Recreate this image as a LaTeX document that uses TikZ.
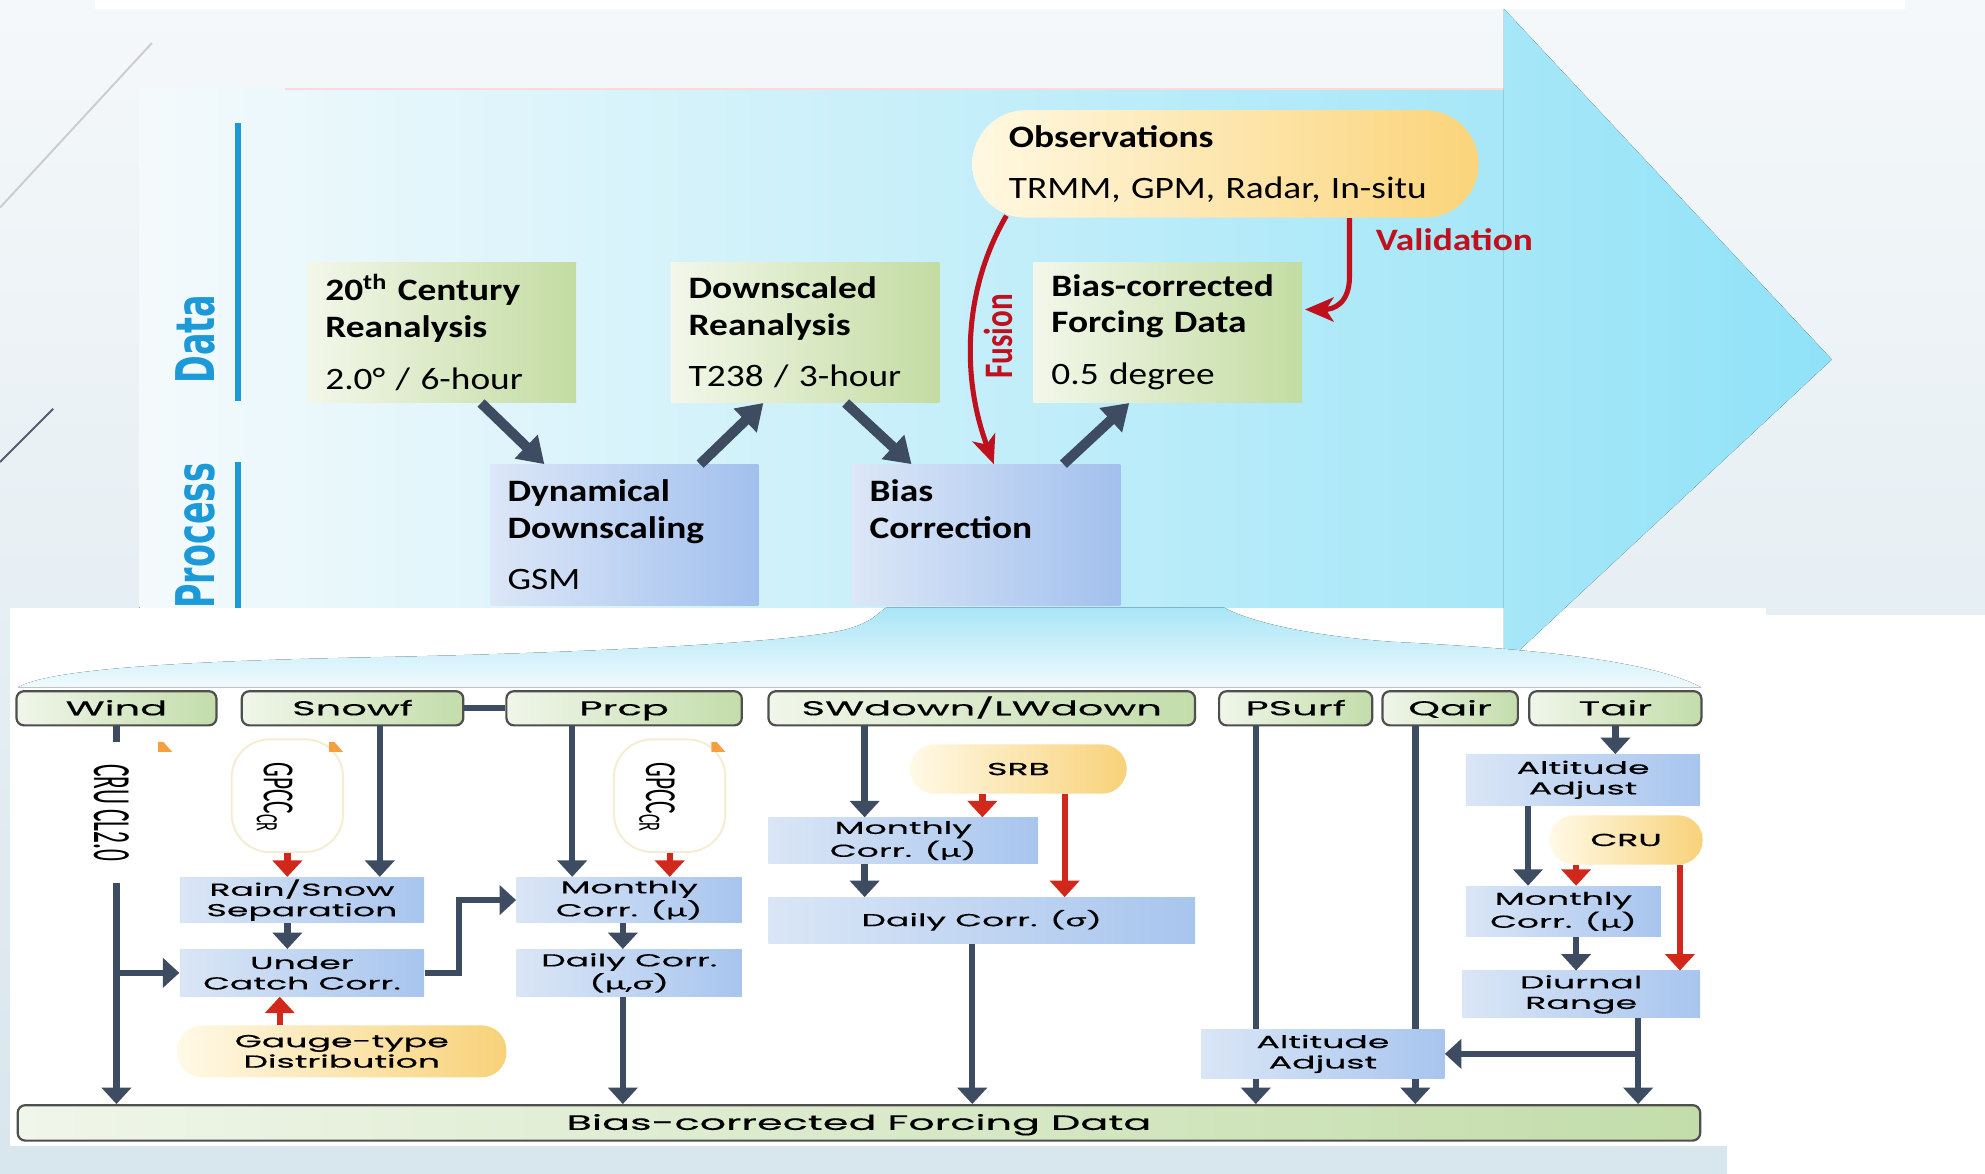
\documentclass[tikz,border=0pt]{standalone}
\usepackage{fontspec}
\usepackage{graphicx}
\usepackage{tikz}
\usetikzlibrary{positioning}
\usetikzlibrary{calc}
\usetikzlibrary{arrows.meta}
\setmainfont{Carlito}
\newfontfamily\topfont[FakeStretch=1.2]{Carlito}
\newfontfamily\sidefont{DejaVu Sans}
\newfontfamily\flowfont[FakeStretch=2.0, FakeBold=0.4]{Poppins}
\newfontfamily\pillfont[FakeStretch=2.0, FakeBold=0.9]{Poppins}
\newfontfamily\grkfont[FakeStretch=2.0, FakeBold=0.4]{Lato}
\newcommand{\gmu}{{\grkfont μ}}
\newcommand{\gsig}{{\grkfont σ}}

\definecolor{pagetop}{HTML}{F5F8FA}
\definecolor{pagebot}{HTML}{D8E6ED}
\definecolor{bodyl}{HTML}{F4FAFC}
\definecolor{bodyr}{HTML}{A6E7F8}
\definecolor{headr}{HTML}{90E2F8}
\definecolor{callt}{HTML}{A9E6F7}
\definecolor{callb}{HTML}{F0FAFD}
\definecolor{tagblue}{HTML}{1C9AD8}
\definecolor{datal}{HTML}{F3F7EA}
\definecolor{datar}{HTML}{C3DCA2}
\definecolor{procl}{HTML}{DCE7F7}
\definecolor{procr}{HTML}{A2C0EE}
\definecolor{obsl}{HTML}{FFF8E2}
\definecolor{obsr}{HTML}{FBD47A}
\definecolor{slate}{HTML}{3E4C62}
\definecolor{fusered}{HTML}{C0101E}
\definecolor{hdrl}{HTML}{F0F6EA}
\definecolor{hdrr}{HTML}{C3DDAA}
\definecolor{hdrline}{HTML}{4F4F4F}
\definecolor{corrl}{HTML}{DAE6F6}
\definecolor{corrr}{HTML}{A8C5EE}
\definecolor{pilll}{HTML}{FFF9E6}
\definecolor{pillr}{HTML}{F8D27A}
\definecolor{srcred}{HTML}{D2281C}
\definecolor{gpccline}{HTML}{F4EDD2}
\definecolor{tick}{HTML}{F5A040}

\tikzset{
    databox/.style={
           rectangle,
           left color=datal, right color=datar,
           minimum width=42.4mm, minimum height=22.2mm,
           text width=36.8mm, inner xsep=2.8mm,
           align=left,
           font=\topfont\fontsize{14}{16.5}\selectfont
           },
    procbox/.style={databox, left color=procl, right color=procr},
    obsbox/.style={
           rectangle, rounded corners=8.5mm,
           left color=obsl, right color=obsr,
           minimum width=80mm, minimum height=17mm,
           text width=68.4mm, inner xsep=5.8mm,
           align=left,
           font=\topfont\fontsize{14}{22.7}\selectfont
           },
    sidetag/.style={rotate=90, text=tagblue,
           font=\sidefont\bfseries\fontsize{15}{18}\selectfont},
    redlabel/.style={text=fusered, font=\bfseries\fontsize{14}{16}\selectfont},
    bigarrow/.style={draw=slate, line width=1.6mm,
           -{Triangle[length=4mm,width=5mm]}},
    redarrow/.style={draw=fusered, line width=0.8mm,
           -{Stealth[length=4.5mm,width=3.8mm,inset=1.2mm]}},
    hdr/.style={
           rectangle, rounded corners=1.2mm,
           draw=hdrline, line width=0.35mm,
           left color=hdrl, right color=hdrr,
           minimum height=5.4mm, inner sep=0pt,
           text height=2.8mm, text depth=0.6mm,
           font=\flowfont\fontsize{9}{10}\selectfont
           },
    corr/.style={
           rectangle, left color=corrl, right color=corrr,
           inner sep=0pt, align=center,
           font=\flowfont\fontsize{7.8}{9.2}\selectfont
           },
    srcpill/.style={
           rectangle, rounded corners=3.9mm,
           left color=pilll, right color=pillr,
           inner sep=0pt, align=center,
           font=\pillfont\fontsize{7.8}{9.2}\selectfont
           },
    gpcc/.style={
           rectangle, rounded corners=6mm,
           fill=white, draw=gpccline, line width=0.3mm,
           minimum width=17.6mm, minimum height=17.8mm
           },
    vtext/.style={rotate=-90, font=\fontsize{10.5}{12}\selectfont},
    flow/.style={draw=slate, line width=1mm,
           -{Triangle[length=2.6mm,width=4.6mm]}},
    flowline/.style={draw=slate, line width=1mm},
    feed/.style={draw=srcred, line width=1mm,
           -{Triangle[length=2.6mm,width=4.6mm]}},
}

\begin{document}
\begin{tikzpicture}[x=0.2mm, y=-0.2mm]
   \useasboundingbox (0,0) rectangle (1568,927);

   % page and the two panels
   \fill[top color=pagetop, bottom color=pagebot] (0,0) rectangle (1568,927);
   \fill[white] (75,0) rectangle (1505,7);
   \fill[white] (8,480) rectangle (1395,905);
   \fill[white] (1364,486) rectangle (1568,927);
   \draw[draw=black!20, line width=0.3mm] (120,34) -- (0,164);
   \draw[draw=slate!90, line width=0.3mm] (42,323) -- (0,365);

   % big arrow and the zoom-out under it
   \fill[left color=bodyl, right color=bodyr] (110,70) rectangle (1188,480);
   \draw[red!15, line width=0.3mm] (225,70) -- (1188,70);
   \fill[left color=bodyr, right color=headr] (1188,7) -- (1447,284) -- (1188,525) -- cycle;
   \fill[top color=callt, bottom color=callb]
       (14,543) .. controls (40,528) and (150,522) .. (302,519)
       .. controls (450,516) and (620,508) .. (665,498)
       .. controls (690,492) and (693,484) .. (700,480)
       -- (967,480)
       .. controls (985,490) and (1030,502) .. (1100,507)
       .. controls (1200,512) and (1300,520) .. (1344,543) -- cycle;

   \node[sidetag] (data) at (154,268) {\scalebox{1}[1.6]{Data}};
   \draw[tagblue, line width=0.9mm] (188,97) -- (188,317);
   \begin{scope}
      \clip (0,0) rectangle (1568,480);
      \node[sidetag] (process) at (154,423) {\scalebox{1}[1.6]{Process}};
      \draw[tagblue, line width=0.9mm] (188,365) -- (188,480);
   \end{scope}

   \begin{scope}[on grid]
   \node[databox] (dA) at (349,262.5)
      {\textbf{20\textsuperscript{th} Century}\\\textbf{Reanalysis}\\[6.8pt]2.0° / 6-hour};
   \node[databox] (dB) [right=57.4mm of dA]
      {\textbf{Downscaled}\\\textbf{Reanalysis}\\[6.8pt]T238 / 3-hour};
   \node[databox] (dC) [right=57.3mm of dB]
      {\textbf{Bias-corrected}\\\textbf{Forcing Data}\\[6.8pt]0.5 degree};
   \node[procbox] (pD) [below right=32mm and 28.8mm of dA]
      {\textbf{Dynamical}\\\textbf{Downscaling}\\[6.8pt]GSM};
   \node[procbox] (pB) [right=57.2mm of pD]
      {\textbf{Bias}\\\textbf{Correction}\\[6.8pt]\phantom{GSM}};
   \node[obsbox] (obs) at (968,129.5)
      {\textbf{Observations}\\TRMM, GPM, Radar, In-situ};
   \end{scope}

   \draw[bigarrow] ($(dA.south)+(31,0)$) -- ($(pD.north)+(-63,0)$);
   \draw[bigarrow] ($(pD.north)+(60,0)$) -- ($(dB.south)+(-33,0)$);
   \draw[bigarrow] ($(dB.south)+(32,0)$) -- ($(pB.north)+(-59,0)$);
   \draw[bigarrow] ($(pB.north)+(61,0)$) -- ($(dC.south)+(-30.5,0)$);

   \draw[redarrow] ($(obs.south)+(-173,-2)$)
       .. controls +(-35,60) and +(-25,-67) ..
       node[redlabel, pos=0.5, xshift=4.3mm, rotate=90] (fus) {\scalebox{1}[1.3]{Fusion}}
       ($(pB.north)+(6,0)$);
   \draw[redarrow] ($(obs.south)+(98,0)$)
       -- node[redlabel, font=\topfont\bfseries\fontsize{14}{16}\selectfont,
               pos=0.37, anchor=west, xshift=2.6mm] (val) {Validation} ++(0,46)
       .. controls +(0,22) and +(22,0) .. ($(dC.east)+(2,-18)$);

   % variable headers and the output bar
   \node[hdr, minimum width=31.6mm] (wind) at (92,559.5) {Wind};
   \node[hdr, minimum width=35mm] (snowf) at (278.5,559.5) {Snowf};
   \node[hdr, minimum width=37.2mm] (prcp) at (493,559.5) {Prcp};
   \node[hdr, minimum width=67.4mm] (swd) at (775.5,559.5) {SWdown/LWdown};
   \node[hdr, minimum width=24.2mm] (psurf) at (1023.5,559.5) {PSurf};
   \node[hdr, minimum width=21.4mm] (qair) at (1145.5,559.5) {Qair};
   \node[hdr, minimum width=27.2mm] (tair) at (1276,559.5) {Tair};
   \node[hdr, minimum width=265.8mm, minimum height=5.6mm,
         font=\flowfont\fontsize{9.3}{10}\selectfont] (bar) at (678.5,887) {Bias-corrected Forcing Data};

   % wind and precipitation
   \node[vtext, inner xsep=3.4mm] (clim) at (88,642) {\scalebox{1}[2.3]{CRU CL2.0}};
   \node[gpcc] (gpA) at (227,628.5) {};
   \node[vtext] (gpAt) at (217,630) {\scalebox{1}[1.9]{GPCC\textsubscript{CR}}};
   \node[gpcc] (gpB) at (529,628.5) {};
   \node[vtext] (gpBt) at (519,630) {\scalebox{1}[1.9]{GPCC\textsubscript{CR}}};
   \fill[tick] (125,586) -- (129,586) -- (136,594) -- (125,594) -- cycle;
   \fill[tick] (260,586) -- (264,586) -- (271,594) -- (260,594) -- cycle;
   \fill[tick] (562,586) -- (566,586) -- (573,594) -- (562,594) -- cycle;

   \node[corr, minimum width=38.6mm, minimum height=7.2mm] (rss) at (238.5,711) {Rain/Snow\\Separation};
   \node[corr, minimum width=38.6mm, minimum height=7.4mm] (ucc) at (238.5,768.5) {Under\\Catch Corr.};
   \node[srcpill, minimum width=52mm, minimum height=8.2mm] (gauge) at (270,830.5) {Gauge-type\\Distribution};
   \node[corr, minimum width=35.6mm, minimum height=7.2mm] (pmc) at (497,711) {Monthly\\Corr. (\gmu)};
   \node[corr, minimum width=35.6mm, minimum height=7.4mm] (pdc) at (497,768.5) {Daily Corr.\\(\gmu,\gsig)};

   % radiation
   \node[srcpill, minimum width=34.2mm, minimum height=7.8mm] (srb) at (804.5,607.5) {SRB};
   \node[corr, minimum width=42.6mm, minimum height=7.2mm] (smc) at (713.5,664) {Monthly\\Corr. (\gmu)};
   \node[corr, minimum width=67.4mm, minimum height=7.2mm] (sdc) at (775.5,727) {Daily Corr. (\gsig)};

   % pressure, humidity, temperature
   \node[corr, minimum width=38.4mm, minimum height=7.8mm] (aab) at (1045,832.5) {Altitude\\Adjust};
   \node[corr, minimum width=37mm, minimum height=8mm] (taa) at (1250.5,616) {Altitude\\Adjust};
   \node[srcpill, minimum width=24.2mm, minimum height=7.8mm] (cru) at (1284.5,663.5) {CRU};
   \node[corr, minimum width=30.8mm, minimum height=8mm] (tmc) at (1235,720) {Monthly\\Corr. (\gmu)};
   \node[corr, minimum width=37.6mm, minimum height=7.4mm] (tdr) at (1249,785.5) {Diurnal\\Range};

   \draw[flowline] (snowf.east) -- (prcp.west);
   \draw[flowline] (wind.south) -- (wind.south |- clim.west);
   \draw[flow] (wind.south |- clim.east) -- (wind.south |- bar.north);
   \draw[flow] (wind.south |- ucc.west) -- (ucc.west);
   \draw[flow] ($(snowf.south)+(21.5,0)$) coordinate (sn) -- (sn |- rss.north);
   \draw[feed] (gpA.south) -- (gpA.south |- rss.north);
   \draw[flow] (gpA.south |- rss.south) -- (gpA.south |- ucc.north);
   \draw[feed] ($(gauge.north)+(-49,0)$) coordinate (ga) -- (ga |- ucc.south);
   \draw[flow] (ucc.east) -- ++(27,0) |- (pmc.west);
   \draw[flow] ($(prcp.south)+(-41,0)$) coordinate (pr) -- (pr |- pmc.north);
   \draw[feed] (gpB.south) -- (gpB.south |- pmc.north);
   \draw[flow] ($(pmc.south)+(-5,0)$) coordinate (pm) -- (pm |- pdc.north);
   \draw[flow] (pm |- pdc.south) -- (pm |- bar.north);

   \draw[flow] ($(swd.south)+(-92.5,0)$) coordinate (sw) -- (sw |- smc.north);
   \draw[feed] ($(srb.south)+(-28.5,0)$) coordinate (sr) -- (sr |- smc.north);
   \draw[feed] ($(srb.south)+(36.5,0)$) coordinate (sr2) -- (sr2 |- sdc.north);
   \draw[flow] (sw |- smc.south) -- (sw |- sdc.north);
   \draw[flow] ($(sdc.south)+(-7.5,0)$) coordinate (sd) -- (sd |- bar.north);

   \draw[flowline] ($(psurf.south)+(-31.5,0)$) coordinate (ps) -- (ps |- aab.north);
   \draw[flowline] ($(qair.south)+(-27.5,0)$) coordinate (qa) -- (qa |- aab.north);
   \draw[flow] (ps |- aab.south) -- (ps |- bar.north);
   \draw[flow] (qa |- aab.south) -- (qa |- bar.north);
   \draw[flow] (tair.south) -- (tair.south |- taa.north);
   \draw[flow] ($(taa.south)+(-43.5,0)$) coordinate (ta) -- (ta |- tmc.north);
   \draw[feed] ($(cru.south)+(-39.5,0)$) coordinate (cr) -- (cr |- tmc.north);
   \draw[feed] ($(cru.south)+(42.5,0)$) coordinate (cr2) -- (cr2 |- tdr.north);
   \draw[flow] (cr |- tmc.south) -- (cr |- tdr.north);
   \draw[flow] ($(tdr.south)+(45,0)$) coordinate (td) -- (td |- bar.north);
   \draw[flow] (td |- aab.east) -- (aab.east);
\end{tikzpicture}
\end{document}
